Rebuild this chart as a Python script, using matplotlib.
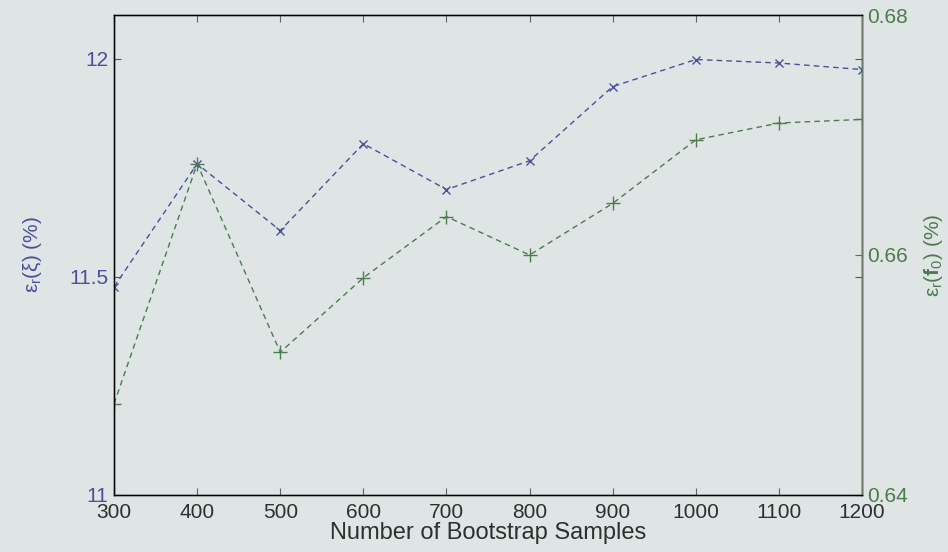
import matplotlib
matplotlib.use("Agg")
import matplotlib.pyplot as plt

plt.rcParams['font.family'] = ['Liberation Sans', 'DejaVu Sans']
plt.rcParams['mathtext.fontset'] = 'custom'
plt.rcParams['mathtext.rm'] = 'Liberation Sans'
plt.rcParams['mathtext.it'] = 'Liberation Sans'
plt.rcParams['mathtext.bf'] = 'Liberation Sans:bold'

# Bootstrap sample counts and relative errors
samples = [300, 400, 500, 600, 700, 800, 900, 1000, 1100, 1200]
err_xi = [11.477, 11.759, 11.606, 11.805, 11.700, 11.766, 11.936, 11.998, 11.990, 11.975]
err_f0 = [0.6476, 0.6676, 0.6519, 0.6581, 0.6632, 0.6600, 0.6643, 0.6696, 0.6710, 0.6713]

left_ticks = [11, 11.5, 12]
left_ticklabels = ['11', '11.5', '12']
right_ticks = [0.64, 0.66, 0.68]
right_ticklabels = ['0.64', '0.66', '0.68']

bg = '#dfe5e4'
blue = '#4b4f9c'
green = '#4d7a4f'
grey = '#5c6262'

fig = plt.figure(figsize=(9.48, 5.52), dpi=100, facecolor=bg)
ax = fig.add_axes([0.1203, 0.1033, 0.7890, 0.8695])
ax.set_facecolor(bg)
ax2 = ax.twinx()
ax2.set_facecolor('none')

ax.plot(samples, err_xi, linestyle=(0, (4, 3)), color=blue, lw=1.0,
        marker='x', markersize=6, markeredgewidth=1.0)
ax2.plot(samples, err_f0, linestyle=(0, (4, 3)), color=green, lw=1.0,
         marker='+', markersize=10, markeredgewidth=1.0)

ax.set_xlim(300, 1200)
ax.set_ylim(11, 12.1)
ax2.set_ylim(0.64, 0.68)

ax.set_xticks(samples)
ax.set_xticklabels([str(s) for s in samples])
ax.set_yticks(left_ticks)
ax.set_yticklabels(left_ticklabels)
ax2.set_yticks(right_ticks)
ax2.set_yticklabels(right_ticklabels)

ax.tick_params(axis='x', direction='in', top=True, length=5, labelsize=15,
               labelcolor='#2e3030', color=grey, pad=6)
ax.tick_params(axis='y', direction='in', right=True, length=5, labelsize=15,
               labelcolor=blue, color=blue, pad=4)
ax2.tick_params(axis='y', direction='in', length=5, labelsize=15,
                labelcolor=green, color=green, pad=4)

for s in ['top', 'bottom']:
    ax.spines[s].set_color(grey)
ax.spines['left'].set_color(blue)
ax2.spines['right'].set_color('#6a7a6a')
for a in (ax, ax2):
    for sp in a.spines.values():
        sp.set_linewidth(1.0)

ax.set_xlabel('Number of Bootstrap Samples', fontsize=17, color='#2e3030', labelpad=0)
ax.set_ylabel(r'$\epsilon_r(\xi)$ (%)', fontsize=15, color=blue, labelpad=18)
ax2.set_ylabel(r'$\epsilon_r(\mathbf{f}_0)$ (%)', fontsize=15, color=green,
               rotation=90, labelpad=10)

fig.savefig('out.png', dpi=100, facecolor=bg)
